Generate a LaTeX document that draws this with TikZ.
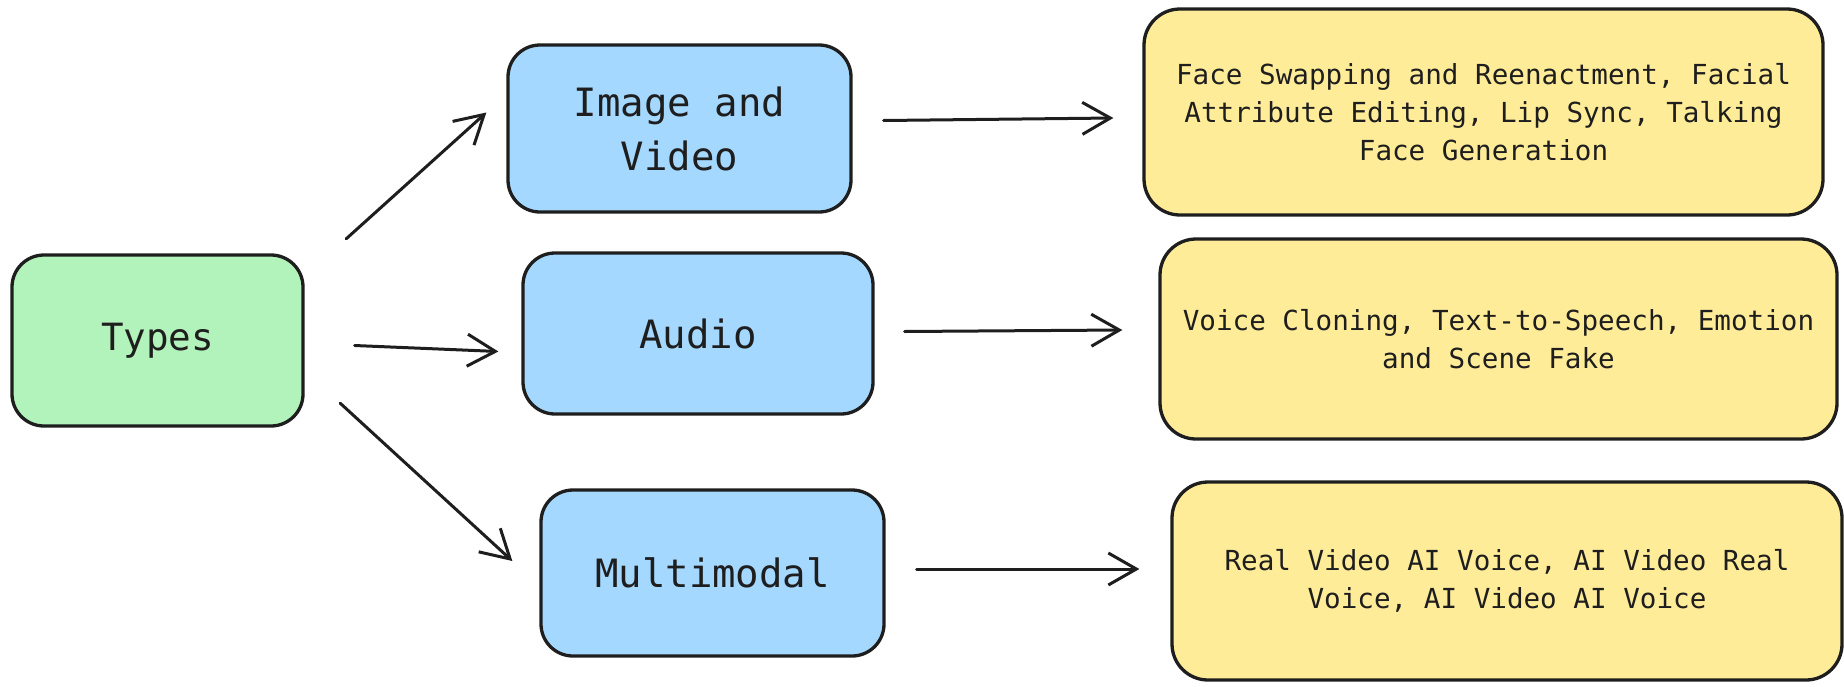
\documentclass[tikz,border=0pt]{standalone}
\usepackage{fontspec}
\setmonofont{DejaVu Sans Mono}
\usetikzlibrary{arrows.meta,calc}
\definecolor{ink}{HTML}{1E1E1E}
\definecolor{greenfill}{HTML}{B2F2BB}
\definecolor{bluefill}{HTML}{A5D8FF}
\definecolor{yellowfill}{HTML}{FFEC99}
\tikzset{
  box/.style={draw=ink, line width=3.3pt, rounded corners=32pt, align=center,
    text=ink, inner sep=0pt, font=\ttfamily},
  rootbox/.style={box, fill=greenfill, font=\ttfamily\fontsize{37.5}{50}\selectfont},
  kindbox/.style={box, fill=bluefill, font=\ttfamily\fontsize{39}{54}\selectfont},
  leafbox/.style={box, fill=yellowfill, rounded corners=36pt,
    font=\ttfamily\fontsize{27.6}{37.8}\selectfont},
  arr/.style={draw=ink, line width=3pt, line cap=round,
    -{Straight Barb[length=28pt, width=32pt, line width=3pt]}}
}
\begin{document}
\begin{tikzpicture}[x=1pt, y=-1pt]
  \useasboundingbox (0,0) rectangle (1844,686);

  % root
  \node[rootbox, minimum width=291pt, minimum height=171pt] (types) at (157.5,340.5) {Types};

  % media kinds
  \node[kindbox, minimum width=343pt, minimum height=167pt] (img) at (679.5,128.5) {Image and\\Video};
  \node[kindbox, minimum width=350pt, minimum height=161pt] (aud) at (698,333.5) {Audio};
  \node[kindbox, minimum width=343pt, minimum height=166pt] (mm) at (712.5,573) {Multimodal};

  % techniques
  \node[leafbox, minimum width=679pt, minimum height=206pt] (t1) at (1483.5,112)
    {Face Swapping and Reenactment, Facial\\Attribute Editing, Lip Sync, Talking\\Face Generation};
  \node[leafbox, minimum width=677pt, minimum height=200pt] (t2) at (1498.5,339)
    {Voice Cloning, Text-to-Speech, Emotion\\and Scene Fake\hspace*{0pt}};
  \node[leafbox, minimum width=670pt, minimum height=198pt] (t3) at (1507,581)
    {Real Video AI Voice, AI Video Real\\Voice, AI Video AI Voice};

  % root to kinds
  \draw[arr] ($(types.north east)+(41.5,-14.5)$) -- ($(img.west)+(-20,-16)$);
  \draw[arr] ($(types.east)+(50,5)$) -- ($(aud.west)+(-23,18)$);
  \draw[arr] ($(types.south east)+(35.5,-24.5)$) -- ($(mm.west)+(-27,-12)$);

  % kinds to techniques
  \draw[arr] ($(img.east)+(31,-8)$) -- ($(t1.west)+(-29,6)$);
  \draw[arr] ($(aud.east)+(30,-2)$) -- ($(t2.west)+(-36,-9)$);
  \draw[arr] ($(mm.east)+(31,-4)$) -- ($(t3.west)+(-31,-12)$);
\end{tikzpicture}
\end{document}
